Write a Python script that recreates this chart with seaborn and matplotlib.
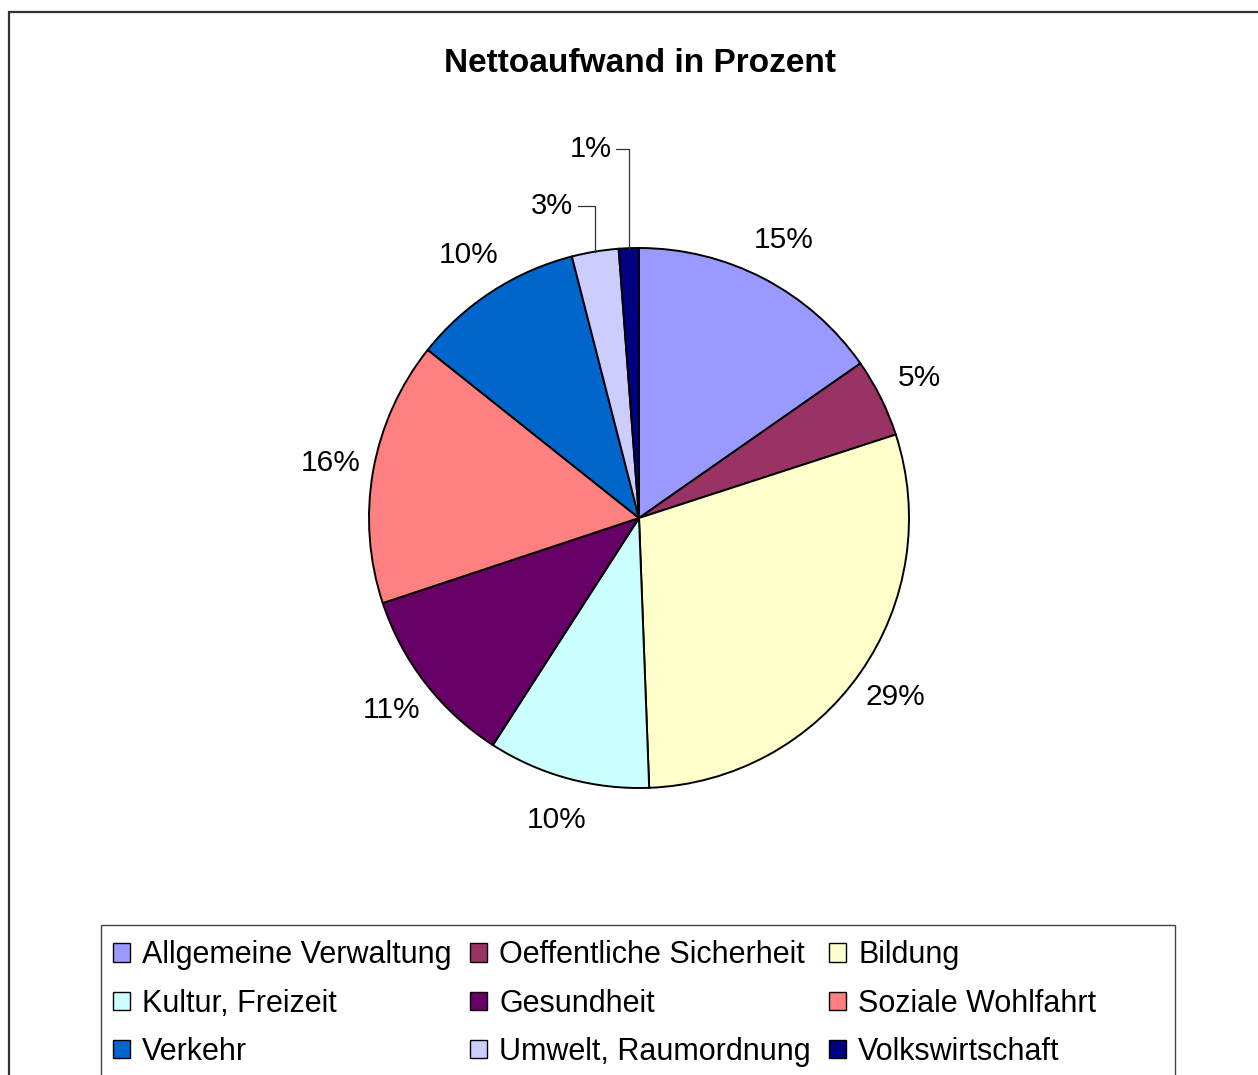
import numpy as np
import matplotlib
matplotlib.use("Agg")
import matplotlib.pyplot as plt
import matplotlib.patches as mpatches
import seaborn as sns

# Nettoaufwand je Bereich (Prozent)
categories = [
    "Allgemeine Verwaltung", "Oeffentliche Sicherheit", "Bildung",
    "Kultur, Freizeit", "Gesundheit", "Soziale Wohlfahrt",
    "Verkehr", "Umwelt, Raumordnung", "Volkswirtschaft",
]
values = [15.3, 4.7, 29.4, 9.7, 10.8, 15.8, 10.3, 2.8, 1.2]
colors = ["#9999FF", "#993366", "#FFFFCC", "#CCFFFF", "#660066",
          "#FF8080", "#0066CC", "#CCCCFF", "#000080"]
title = "Nettoaufwand in Prozent"

sns.set_style("white")
plt.rcParams["font.family"] = ["Liberation Sans", "DejaVu Sans"]
plt.rcParams["text.color"] = "black"

W, H = 1258, 1075
fig = plt.figure(figsize=(W / 100, H / 100), dpi=100)

# outer chart frame (runs off the right and bottom edge)
fig.patches.append(mpatches.Rectangle(
    (9 / W, -0.05), 1.1, 1 - 12 / H + 0.05, transform=fig.transFigure,
    fill=False, edgecolor="#333333", linewidth=1.6))

# pie axes: centre (639, 518) px, radius 270 px
cx, cy, r = 639, 518, 270
ax = fig.add_axes([(cx - r) / W, (H - cy - r) / H, 2 * r / W, 2 * r / H])
wedges, _ = ax.pie(
    values, colors=colors, startangle=90, counterclock=False, radius=1,
    wedgeprops=dict(edgecolor="black", linewidth=1.4),
)
ax.set_xlim(-1, 1)
ax.set_ylim(-1, 1)
ax.axis("off")

total = sum(values)
for i, w in enumerate(wedges):
    theta = np.deg2rad((w.theta1 + w.theta2) / 2)
    pct = f"{round(values[i] / total * 100):d}%"
    if values[i] < 4:
        # small slices get a label with an elbow leader line
        xe, ye = np.cos(theta), np.sin(theta)
        if i == len(values) - 1:
            xt, yt = xe - 0.065, 1.367
        else:
            xt, yt = xe - 0.08, 1.156
        ax.annotate(pct, xy=(xe, ye), xytext=(xt, yt), ha="right",
                    va="center", fontsize=21, annotation_clip=False,
                    arrowprops=dict(arrowstyle="-", color="#333333",
                                    linewidth=0.9, relpos=(1, 0.5),
                                    shrinkA=1, shrinkB=0,
                                    connectionstyle="angle,angleA=0,angleB=90,rad=0"))
    else:
        d = 1.16
        ax.text(d * np.cos(theta), d * np.sin(theta), pct,
                ha="center", va="center", fontsize=21.5)

fig.text(640 / W, 1 - 64 / H, title, ha="center", va="center",
         fontsize=24, fontweight="bold")

# legend frame drawn separately so it spans the full chart width
fig.patches.append(mpatches.Rectangle(
    (101 / W, -0.05), (1175 - 101) / W, 1 - 925 / H + 0.05,
    transform=fig.transFigure, fill=False, edgecolor="#444444",
    linewidth=1.0))

# legend in row order, three columns
handles = [mpatches.Patch(facecolor=c, edgecolor="black", linewidth=1.0)
           for c in colors]
order = [0, 3, 6, 1, 4, 7, 2, 5, 8]
leg = fig.legend(
    [handles[k] for k in order], [categories[k] for k in order],
    ncol=3, loc="upper left", bbox_to_anchor=(101 / W, 1 - 928 / H),
    fontsize=22, frameon=False,
    handlelength=0.55, handleheight=0.55, handletextpad=0.4,
    columnspacing=0.6, labelspacing=0.6, borderpad=0.4,
    borderaxespad=0,
)

fig.savefig("out.png", dpi=100)
